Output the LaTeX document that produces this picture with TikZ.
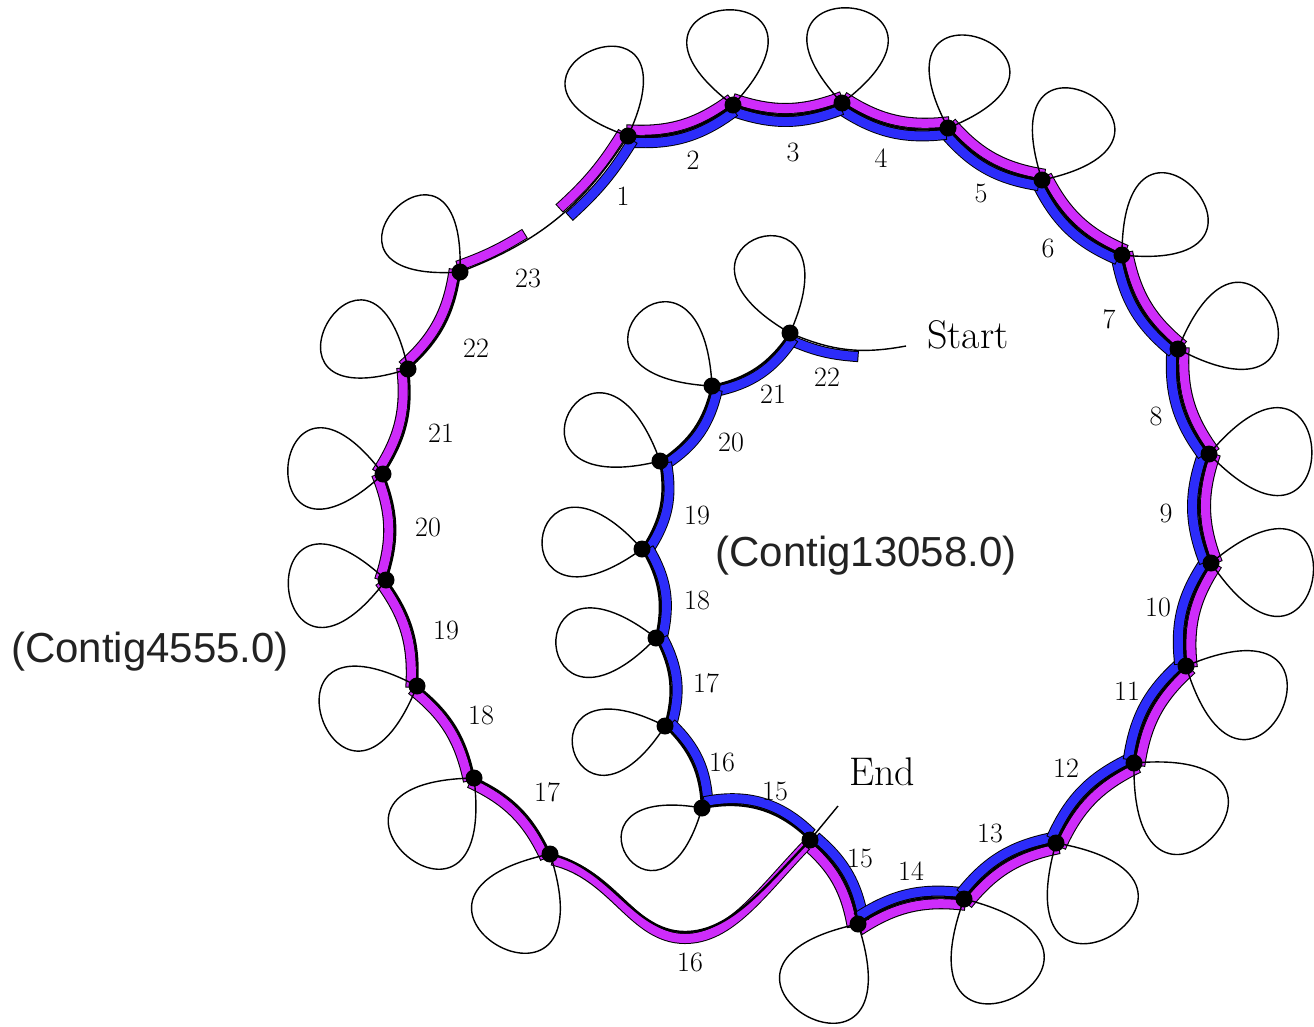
\documentclass[tikz,border=0pt]{standalone}
\usepackage{fontspec}
\newfontfamily\contigfont{Liberation Sans}
\usetikzlibrary{calc}
\definecolor{mag}{RGB}{206,44,250}
\definecolor{blu}{RGB}{44,44,250}
\definecolor{contiggray}{RGB}{34,34,34}
\newcommand\mystrip[4]{%
  \draw[stripedge] ($(#1)!6.5pt!90:(#2)$) to[#3] ($(#2)!6.5pt!-90:(#1)$);
  \draw[stripfill,#4] ($(#1)!6.5pt!90:(#2)$) to[#3] ($(#2)!6.5pt!-90:(#1)$);
}
\begin{document}
\begin{tikzpicture}[x=1pt,y=-1pt,
  stripedge/.style={line width=11pt, black, line cap=butt},
  stripfill/.style={line width=9pt, line cap=butt, shorten <=1pt, shorten >=1pt},
  pathline/.style={line width=2.4pt, black},
  loopline/.style={line width=1.4pt, black},
  dot/.style={circle, fill=black, inner sep=0pt, minimum size=17pt},
  num/.style={font=\fontsize{28}{30}\selectfont},
  big/.style={font=\fontsize{40}{44}\selectfont},
  contig/.style={font=\contigfont\fontsize{42}{46}\selectfont, text=contiggray}]
\useasboundingbox (0,0) rectangle (1314,1026);
% outer ring vertices
\coordinate (n1) at (628,136);
\coordinate (n2) at (733,105);
\coordinate (n3) at (842,103);
\coordinate (n4) at (948,128);
\coordinate (n5) at (1042,180);
\coordinate (n6) at (1122,255);
\coordinate (n7) at (1178,349);
\coordinate (n8) at (1209,454);
\coordinate (n9) at (1211,563);
\coordinate (n10) at (1186,666);
\coordinate (n11) at (1134,763);
\coordinate (n12) at (1056,843);
\coordinate (n13) at (964,899);
\coordinate (n14) at (858,924);
\coordinate (n15) at (810,840);
\coordinate (n16) at (550,854);
\coordinate (n17) at (474,778);
\coordinate (n18) at (417,686);
\coordinate (n19) at (386,580);
\coordinate (n20) at (383,474);
\coordinate (n21) at (408,369);
\coordinate (n22) at (460,272);
\coordinate (b16) at (685,932);
% inner chain vertices
\coordinate (m22) at (790,333);
\coordinate (m21) at (712,386);
\coordinate (m20) at (660,461);
\coordinate (m19) at (642,549);
\coordinate (m18) at (656,638);
\coordinate (m17) at (665,726);
\coordinate (m16) at (702,808);
\coordinate (st) at (906,346);
\coordinate (et) at (838,806);
% helper points on curves
\path (n22) to[bend right=18] coordinate[pos=0.33] (g1) coordinate[pos=0.55] (g2) (n1);
\path (st) to[bend left=17] coordinate[pos=0.38] (s2) (m22);

% ---- magenta strips (Contig4555) ----
\foreach \a/\b in {n1/n2,n2/n3,n3/n4,n4/n5,n5/n6,n6/n7,n7/n8,n8/n9,n9/n10,n10/n11,n11/n12,n12/n13,n13/n14,n14/n15,n16/n17,n17/n18,n18/n19,n19/n20,n20/n21,n21/n22}
  {\mystrip{\a}{\b}{bend right=20}{mag}}
\mystrip{n22}{g1}{bend right=6}{mag}
\mystrip{g2}{n1}{bend right=8}{mag}
\draw[stripedge] ([shift={(-4,5.5)}]n15) .. controls +(-45,47) and +(45,0) .. ([shift={(0,6.5)}]b16)
  .. controls +(-52,0) and +(62,14) .. ([shift={(2,6)}]n16);
\draw[stripfill,mag] ([shift={(-4,5.5)}]n15) .. controls +(-45,47) and +(45,0) .. ([shift={(0,6.5)}]b16)
  .. controls +(-52,0) and +(62,14) .. ([shift={(2,6)}]n16);

% ---- blue strips (Contig13058) ----
\mystrip{s2}{m22}{bend left=10}{blu}
\foreach \a/\b in {m22/m21,m21/m20,m20/m19,m19/m18,m18/m17,m17/m16}
  {\mystrip{\a}{\b}{bend left=22}{blu}}
\mystrip{m16}{n15}{bend left=28}{blu}
\foreach \a/\b in {n15/n14,n14/n13,n13/n12,n12/n11,n11/n10,n10/n9,n9/n8,n8/n7,n7/n6,n6/n5,n5/n4,n4/n3,n3/n2,n2/n1}
  {\mystrip{\a}{\b}{bend left=20}{blu}}
\mystrip{n1}{g2}{bend left=8}{blu}

% ---- black paths ----
\draw[pathline] (n1) to[bend right=20] (n2) to[bend right=20] (n3) to[bend right=20] (n4)
  to[bend right=20] (n5) to[bend right=20] (n6) to[bend right=20] (n7) to[bend right=20] (n8)
  to[bend right=20] (n9) to[bend right=20] (n10) to[bend right=20] (n11) to[bend right=20] (n12)
  to[bend right=20] (n13) to[bend right=20] (n14) to[bend right=20] (n15);
\draw[pathline] (n15) .. controls +(-45,47) and +(45,0) .. (b16) .. controls +(-52,0) and +(62,14) .. (n16);
\draw[pathline] (n16) to[bend right=20] (n17) to[bend right=20] (n18) to[bend right=20] (n19)
  to[bend right=20] (n20) to[bend right=20] (n21) to[bend right=20] (n22);
\draw[loopline] (n22) to[bend right=18] (n1);
\draw[loopline] (st) to[bend left=17] (m22);
\draw[pathline] (m22) to[bend left=22] (m21) to[bend left=22] (m20) to[bend left=22] (m19)
  to[bend left=22] (m18) to[bend left=22] (m17) to[bend left=22] (m16) to[bend left=28] (n15);
\draw[loopline] (n15) -- (et);

% ---- loops ----
\foreach \p/\a/\t/\d in {n1/113/48/185pt, n2/95/48/190pt, n3/85/48/190pt, n4/70/48/190pt,
  n5/60/48/195pt, n6/42/48/195pt, n7/20/48/205pt, n8/2/48/205pt, n9/-8/48/205pt,
  n10/-25/48/210pt, n11/-43/48/215pt, n12/-58/48/215pt, n13/-62/48/220pt, n14/-120/48/210pt,
  n16/-120/48/210pt, n17/-131/48/205pt, n18/-160/48/200pt, n19/-175/48/195pt,
  n20/175/48/190pt, n21/150/48/185pt, n22/136/48/180pt,
  m22/108/42/180pt, m21/135/42/185pt, m20/152/42/185pt, m19/174/42/180pt,
  m18/-176/42/180pt, m17/-165/42/170pt, m16/-148/42/160pt}
  {\draw[loopline] (\p) .. controls +(\a-\t:\d) and +(\a+\t:\d) .. (\p);}

% ---- dots ----
\foreach \p in {n1,n2,n3,n4,n5,n6,n7,n8,n9,n10,n11,n12,n13,n14,n15,n16,n17,n18,n19,n20,n21,n22,m22,m21,m20,m19,m18,m17,m16}
  {\node[dot] (d\p) at (\p) {};}

% ---- labels ----
\node[num] (l1) at (623,196) {1};
\node[num] (l2) at (693,160) {2};
\node[num] (l3) at (793,152) {3};
\node[num] (l4) at (881,158) {4};
\node[num] (l5) at (981,193) {5};
\node[num] (l6) at (1048,248) {6};
\node[num] (l7) at (1109,319) {7};
\node[num] (l8) at (1156,416) {8};
\node[num] (l9) at (1166,513) {9};
\node[num] (l10) at (1158,607) {10};
\node[num] (l11) at (1127,691) {11};
\node[num] (l12) at (1066,768) {12};
\node[num] (l13) at (990,833) {13};
\node[num] (l14) at (911,871) {14};
\node[num] (l15a) at (860,858) {15};
\node[num] (l15b) at (775,791) {15};
\node[num] (l16a) at (722,762) {16};
\node[num] (l16b) at (690,962) {16};
\node[num] (l17) at (547,792) {17};
\node[num] (l18) at (481,715) {18};
\node[num] (l19) at (446,630) {19};
\node[num] (l20) at (428,527) {20};
\node[num] (l21) at (441,433) {21};
\node[num] (l22) at (476,348) {22};
\node[num] (l23) at (528,278) {23};
\node[num] (i22) at (827,377) {22};
\node[num] (i21) at (773,394) {21};
\node[num] (i20) at (731,442) {20};
\node[num] (i19) at (697,515) {19};
\node[num] (i18) at (697,600) {18};
\node[num] (i17) at (706,683) {17};
\node[big] (lstart) at (968,335) {Start};
\node[big] (lend) at (882,772) {End};
\node[contig] (c1) at (866,556) {(Contig13058.0)};
\node[contig] (c2) at (150,652) {(Contig4555.0)};
\end{tikzpicture}
\end{document}
